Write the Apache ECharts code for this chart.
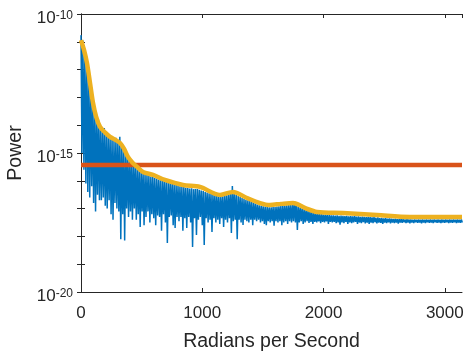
<!DOCTYPE html>
<html>
<head>
<meta charset="utf-8">
<script src="https://cdn.jsdelivr.net/npm/echarts@6/dist/echarts.min.js"></script>
<style>
html,body{margin:0;padding:0;background:#fff;}
#chart{width:465px;height:354px;}
</style>
</head>
<body>
<div id="chart"></div>
<script>
// ---- data (power given as log10 exponent) ----
const xMax = 3141.59;            // radians per second (pi*1000)
const freqStep = 16;             // spacing between spectrum samples (rad/s)
// blue spectrum, log10(power): upper samples and lower samples (interleaved half a step)
const blueUpperExp = [
-10.76,-10.95,-11.3,-11.75,-12.2,-12.7,-13.1,-13.4,-13.65,-13.8,
-14.05,-14.15,-14.1,-14.3,-14.3,-14.45,-14.4,-14.55,-14.45,-14.6,
-14.42,-14.7,-14.85,-14.95,-15.1,-15.25,-15.3,-15.4,-15.45,-15.55,
-15.6,-15.65,-15.7,-15.75,-15.78,-15.8,-15.85,-15.83,-15.9,-15.92,
-15.95,-15.98,-15.97,-16.0,-16.03,-16.05,-16.08,-16.1,-16.12,-16.15,
-16.18,-16.2,-16.22,-16.2,-16.25,-16.26,-16.28,-16.27,-16.3,-16.3,
-16.3,-16.32,-16.35,-16.37,-16.4,-16.42,-16.45,-16.47,-16.5,-16.52,
-16.55,-16.57,-16.58,-16.56,-16.54,-16.52,-16.5,-16.45,-16.19,-16.48,
-16.5,-16.55,-16.58,-16.62,-16.65,-16.68,-16.7,-16.73,-16.76,-16.8,
-16.82,-16.85,-16.88,-16.9,-16.92,-16.93,-16.94,-16.95,-16.95,-16.94,
-16.94,-16.93,-16.92,-16.9,-16.9,-16.89,-16.88,-16.87,-16.87,-16.85,
-16.73,-16.82,-16.93,-16.96,-16.99,-17.02,-17.05,-17.08,-17.1,-17.12,
-17.15,-17.17,-17.18,-17.2,-17.2,-17.22,-17.22,-17.23,-17.23,-17.24,
-17.24,-17.25,-17.24,-17.26,-17.25,-17.26,-17.27,-17.26,-17.28,-17.27,
-17.28,-17.27,-17.29,-17.28,-17.3,-17.29,-17.3,-17.31,-17.3,-17.31,
-17.32,-17.31,-17.33,-17.32,-17.34,-17.33,-17.35,-17.34,-17.36,-17.35,
-17.36,-17.37,-17.36,-17.38,-17.37,-17.38,-17.38,-17.39,-17.38,-17.39,
-17.39,-17.4,-17.39,-17.4,-17.39,-17.4,-17.39,-17.4,-17.39,-17.4,
-17.39,-17.4,-17.39,-17.4,-17.39,-17.4,-17.39,-17.4,-17.39,-17.4,
-17.39,-17.4,-17.39,-17.4,-17.39,-17.4,-17.39
];
const blueLowerExp = [
-15.0,-15.6,-16.1,-16.4,-16.6,-16.2,-16.8,-17.1,-16.5,-16.7,
-16.7,-16.6,-16.9,-17.0,-16.7,-17.2,-17.4,-16.8,-17.0,-17.1,
-18.1,-17.2,-18.15,-17.0,-17.3,-17.1,-17.4,-17.0,-17.4,-17.2,
-17.66,-17.1,-17.6,-17.3,-17.1,-17.5,-17.2,-17.35,-17.6,-17.25,
-17.3,-17.8,-17.2,-17.5,-18.24,-17.3,-17.25,-17.6,-17.7,-17.3,
-17.45,-17.3,-17.8,-17.35,-17.7,-17.3,-17.5,-18.38,-17.35,-17.95,
-17.4,-17.3,-17.6,-18.31,-17.35,-17.5,-17.4,-17.84,-17.35,-17.5,
-17.4,-17.55,-17.35,-17.66,-17.4,-17.5,-17.35,-17.88,-17.45,-17.4,
-18.1,-17.4,-17.5,-17.59,-17.4,-17.45,-17.5,-17.4,-17.6,-17.4,
-17.45,-17.4,-17.5,-17.45,-17.55,-17.6,-17.45,-17.5,-17.45,-17.62,
-17.45,-17.5,-17.45,-17.6,-17.5,-17.45,-17.55,-17.45,-17.5,-17.45,
-17.5,-17.77,-17.5,-17.45,-17.55,-17.5,-17.45,-17.52,-17.48,-17.55,
-17.48,-17.5,-17.46,-17.52,-17.48,-17.5,-17.46,-17.55,-17.48,-17.5,
-17.48,-17.52,-17.5,-17.58,-17.5,-17.52,-17.48,-17.55,-17.5,-17.52,
-17.5,-17.48,-17.55,-17.5,-17.52,-17.49,-17.53,-17.5,-17.55,-17.5,
-17.52,-17.49,-17.53,-17.5,-17.51,-17.55,-17.5,-17.52,-17.49,-17.53,
-17.5,-17.52,-17.5,-17.54,-17.5,-17.51,-17.49,-17.52,-17.5,-17.53,
-17.5,-17.52,-17.49,-17.51,-17.5,-17.53,-17.5,-17.52,-17.49,-17.51,
-17.5,-17.52,-17.49,-17.51,-17.5,-17.52,-17.5,-17.51,-17.49,-17.52,
-17.5,-17.51,-17.49,-17.52,-17.5,-17.51,-17.5
];
// yellow envelope: frequencies and log10(power)
const envFreq = [0,25,49,75,99,125,157,200,239,280,322,355,387,425,462,511,594,692,841,981,1146,1253,1369,1476,1558,1650,1748,1850,1946,2160,2440,2712,2935,3141.59];
const envExp  = [-10.94,-11.3,-11.76,-12.5,-13.2,-13.7,-14.06,-14.27,-14.42,-14.52,-14.64,-14.85,-15.14,-15.35,-15.5,-15.68,-15.79,-15.97,-16.15,-16.22,-16.51,-16.4,-16.62,-16.8,-16.87,-16.83,-16.8,-16.98,-17.12,-17.16,-17.23,-17.3,-17.3,-17.3];
// red threshold level, log10(power)
const thresholdExp = -15.43;
// axis ticks
const xTickValues = [0, 1000, 2000, 3000];
const yLabelExps = [-20, -15, -10];

// ---- build series ----
const blueData = [];
for (let i = 0; i < blueUpperExp.length; i++) {
  blueData.push([i * freqStep, blueUpperExp[i]]);
  blueData.push([i * freqStep + freqStep / 2, blueLowerExp[i]]);
}
const envData = envFreq.map((f, i) => [f, envExp[i]]);
const redData = [[0, thresholdExp], [xMax, thresholdExp]];

const axisColor = '#262626';
const font = 'Liberation Sans, Arial, Helvetica, sans-serif';

const chart = echarts.init(document.getElementById('chart'), null, {renderer: 'canvas'});
const xCommon = {
  type: 'value', min: 0, max: xMax, interval: 1000,
  axisLine: {show: true, lineStyle: {color: axisColor, width: 1}},
  axisTick: {show: true, inside: true, length: 4, lineStyle: {color: axisColor}},
  splitLine: {show: false}
};
const yCommon = {
  type: 'value', min: -20, max: -10, interval: 1,
  axisLine: {show: true, lineStyle: {color: axisColor, width: 1}},
  axisTick: {show: true, inside: true, length: 4, lineStyle: {color: axisColor}},
  splitLine: {show: false}
};
chart.setOption({
  animation: false,
  backgroundColor: '#fff',
  grid: {left: 81, top: 14, right: 3, bottom: 62, containLabel: false, outerBoundsMode: 'none'},
  xAxis: [
    Object.assign({}, xCommon, {
      position: 'bottom',
      name: 'Radians per Second', nameLocation: 'middle', nameGap: 40,
      nameTextStyle: {fontFamily: font, fontSize: 19.5, color: axisColor},
      axisLabel: {
        show: true, margin: 13, fontFamily: font, fontSize: 17, color: axisColor,
        showMaxLabel: false,
        formatter: v => (xTickValues.indexOf(Math.round(v)) >= 0 && Math.abs(v - Math.round(v)) < 1e-6) ? String(Math.round(v)) : ''
      }
    }),
    Object.assign({}, xCommon, {position: 'top', axisLabel: {show: false}})
  ],
  yAxis: [
    Object.assign({}, yCommon, {
      position: 'left',
      name: 'Power', nameLocation: 'middle', nameGap: 44, nameRotate: 90,
      nameTextStyle: {fontFamily: font, fontSize: 19.5, color: axisColor},
      axisLabel: {
        show: true, margin: 8, color: axisColor, padding: [9, 0, 0, 0],
        formatter: v => {
          const e = Math.round(v);
          if (yLabelExps.indexOf(e) < 0) return '';
          return '{b|10}{s|' + e + '}';
        },
        rich: {
          b: {fontFamily: font, fontSize: 17, color: axisColor, lineHeight: 17, verticalAlign: 'bottom'},
          s: {fontFamily: font, fontSize: 12, color: axisColor, lineHeight: 12, verticalAlign: 'top', padding: [0, 0, 9, 0]}
        }
      }
    }),
    Object.assign({}, yCommon, {position: 'right', axisLabel: {show: false}})
  ],
  series: [
    {type: 'line', name: 'spectrum', data: blueData, xAxisIndex: 0, yAxisIndex: 0,
     showSymbol: false, symbol: 'none', lineStyle: {color: '#0072BD', width: 1.5}, z: 2},
    {type: 'line', name: 'threshold', data: redData, xAxisIndex: 0, yAxisIndex: 0,
     showSymbol: false, symbol: 'none', lineStyle: {color: '#D95319', width: 4.5}, z: 3},
    {type: 'line', name: 'envelope', data: envData, xAxisIndex: 0, yAxisIndex: 0, smooth: 0.3,
     showSymbol: false, symbol: 'none', lineStyle: {color: '#EDB120', width: 4.5}, z: 4}
  ]
});
</script>
</body>
</html>
